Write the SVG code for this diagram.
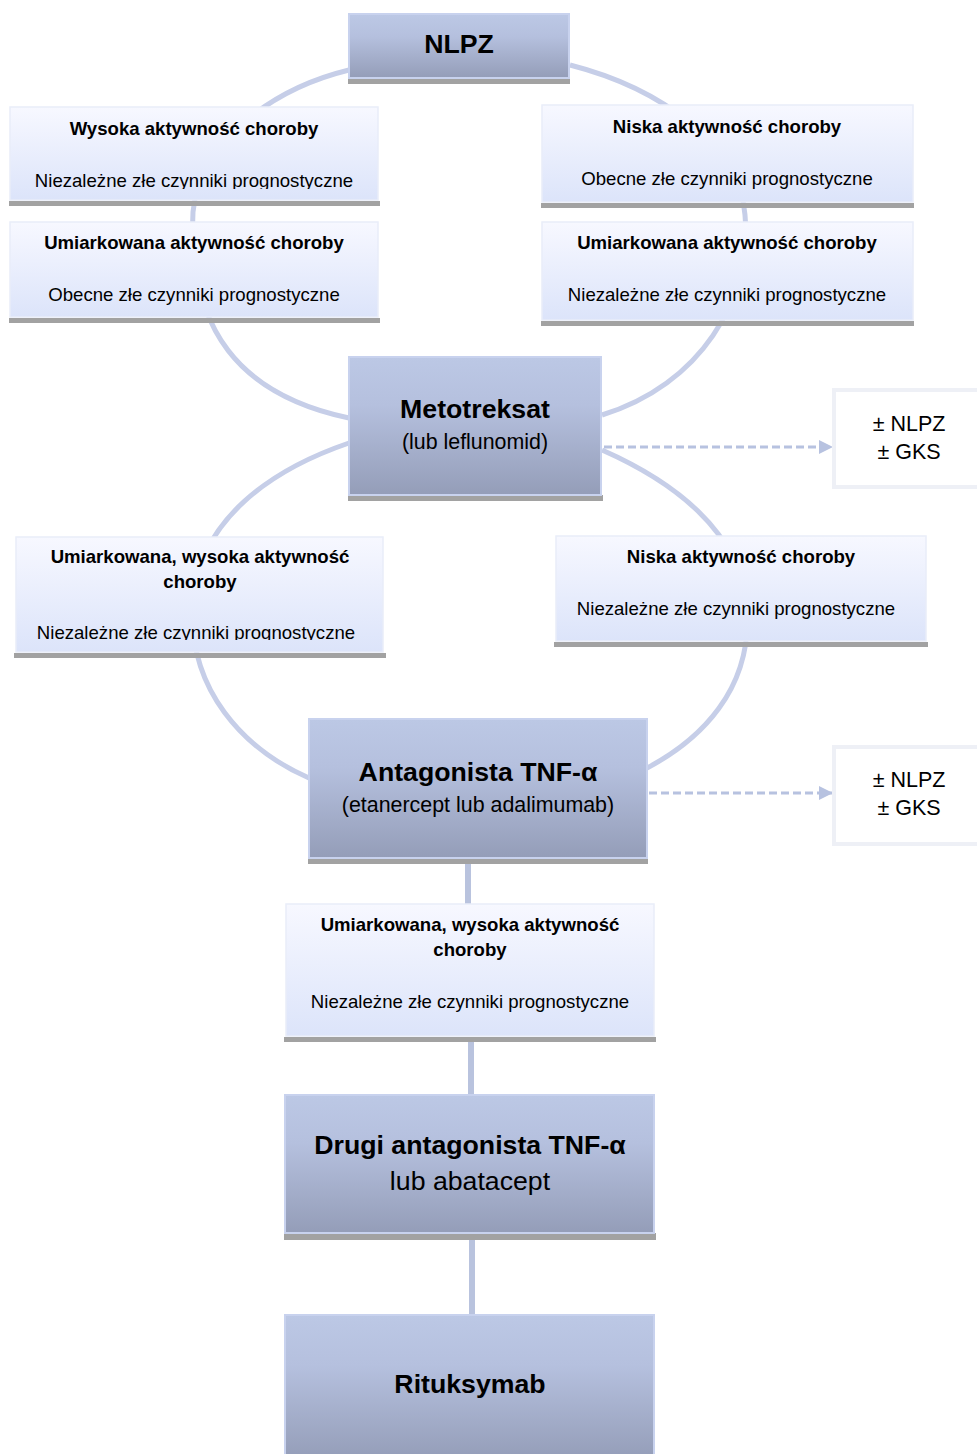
<svg xmlns="http://www.w3.org/2000/svg" width="977" height="1454" viewBox="0 0 977 1454">
<defs>
<linearGradient id="gMain" x1="0" y1="0" x2="0" y2="1">
<stop offset="0" stop-color="#bcc8e5"/>
<stop offset="0.35" stop-color="#b5c0de"/>
<stop offset="1" stop-color="#949db8"/>
</linearGradient>
<linearGradient id="gCond" x1="0" y1="0" x2="0" y2="1">
<stop offset="0" stop-color="#f7f8ff"/>
<stop offset="1" stop-color="#dce4fa"/>
</linearGradient>
<marker id="arr" markerWidth="14" markerHeight="14" refX="13" refY="7" orient="auto" markerUnits="userSpaceOnUse">
<path d="M0,0 L14,7 L0,14 Z" fill="#b7c2e0"/>
</marker>
<clipPath id="clip1"><rect x="10" y="100" width="370" height="89"/></clipPath>
<clipPath id="clip2"><rect x="15" y="530" width="370" height="110"/></clipPath>
</defs>
<style>
.main{fill:url(#gMain);stroke:#c8d2ee;stroke-width:2}
.cond{fill:url(#gCond);stroke:#e9edf9;stroke-width:1.5}
.bar{fill:#a2a2a2}
.side{fill:#ffffff;stroke:#eef0f6;stroke-width:4}
.arc{fill:none;stroke:#c6cee8;stroke-width:5}
.vline{stroke:#b9c3de;stroke-width:6}
.dash{stroke:#b7c2e0;stroke-width:3;stroke-dasharray:8 4;fill:none}
text{font-family:"Liberation Sans",Arial,sans-serif;fill:#000;text-anchor:middle}
.t1{font-size:26.7px;font-weight:bold}
.t2{font-size:21.4px}
.t3{font-size:26.7px}
.ct{font-size:18.6px;font-weight:bold}
.cb{font-size:18.6px}
.sd{font-size:21.5px}
</style>
<rect width="977" height="1454" fill="#ffffff"/>
<g id="connectors">
<path class="arc" d="M349,70 C275,88 200,140 193,212 C188,330 240,395 349,418"/>
<path class="arc" d="M570,65 C660,88 740,145 745,215 C752,300 700,385 602,415"/>
<path class="arc" d="M349,443 C270,470 200,520 193,600 C186,690 245,750 309,778"/>
<path class="arc" d="M602,450 C670,480 742,530 747,610 C752,690 700,740 647,768"/>
<line class="vline" x1="468" y1="862" x2="468" y2="905"/>
<line class="vline" x1="471" y1="1040" x2="471" y2="1096"/>
<line class="vline" x1="472" y1="1238" x2="472" y2="1316"/>
<line class="dash" x1="604" y1="447" x2="832" y2="447" marker-end="url(#arr)"/>
<line class="dash" x1="649" y1="793" x2="832" y2="793" marker-end="url(#arr)"/>
</g>
<g id="nlpz">
<rect class="bar" x="348" y="78" width="222" height="6"/>
<rect class="main" x="349" y="14" width="220" height="64"/>
<text class="t1" x="459" y="53">NLPZ</text>
</g>
<g id="wysoka">
<rect class="bar" x="9" y="201" width="371" height="5"/>
<rect class="cond" x="10" y="107" width="368" height="93"/>
<text class="ct" x="194" y="135">Wysoka aktywność choroby</text>
<text class="cb" x="194" y="187" clip-path="url(#clip1)">Niezależne złe czynniki prognostyczne</text>
</g>
<g id="umiark-left">
<rect class="bar" x="9" y="318" width="371" height="5"/>
<rect class="cond" x="10" y="222" width="368" height="95"/>
<text class="ct" x="194" y="249">Umiarkowana aktywność choroby</text>
<text class="cb" x="194" y="301">Obecne złe czynniki prognostyczne</text>
</g>
<g id="niska-top">
<rect class="bar" x="541" y="203" width="373" height="5"/>
<rect class="cond" x="542" y="105" width="371" height="97"/>
<text class="ct" x="727" y="133">Niska aktywność choroby</text>
<text class="cb" x="727" y="185">Obecne złe czynniki prognostyczne</text>
</g>
<g id="umiark-right">
<rect class="bar" x="541" y="321" width="373" height="5"/>
<rect class="cond" x="542" y="222" width="371" height="98"/>
<text class="ct" x="727" y="249">Umiarkowana aktywność choroby</text>
<text class="cb" x="727" y="301">Niezależne złe czynniki prognostyczne</text>
</g>
<g id="metotreksat">
<rect class="bar" x="348" y="495" width="255" height="6"/>
<rect class="main" x="349" y="357" width="252" height="138"/>
<text class="t1" x="475" y="418">Metotreksat</text>
<text class="t2" x="475" y="449">(lub leflunomid)</text>
</g>
<g id="side1">
<rect class="side" x="834" y="390" width="150" height="97"/>
<text class="sd" x="909" y="431">± NLPZ</text>
<text class="sd" x="909" y="459">± GKS</text>
</g>
<g id="umiark-wys-left">
<rect class="bar" x="14" y="653" width="372" height="5"/>
<rect class="cond" x="16" y="537" width="367" height="115"/>
<text class="ct" x="200" y="563">Umiarkowana, wysoka aktywność</text>
<text class="ct" x="200" y="588">choroby</text>
<text class="cb" x="196" y="639" clip-path="url(#clip2)">Niezależne złe czynniki prognostyczne</text>
</g>
<g id="niska-low">
<rect class="bar" x="554" y="642" width="374" height="5"/>
<rect class="cond" x="556" y="536" width="370" height="105"/>
<text class="ct" x="741" y="563">Niska aktywność choroby</text>
<text class="cb" x="736" y="615">Niezależne złe czynniki prognostyczne</text>
</g>
<g id="antagonista">
<rect class="bar" x="308" y="858" width="340" height="6"/>
<rect class="main" x="309" y="719" width="338" height="139"/>
<text class="t1" x="478" y="781">Antagonista TNF-α</text>
<text class="t2" x="478" y="812">(etanercept lub adalimumab)</text>
</g>
<g id="side2">
<rect class="side" x="834" y="747" width="150" height="97"/>
<text class="sd" x="909" y="787">± NLPZ</text>
<text class="sd" x="909" y="815">± GKS</text>
</g>
<g id="umiark-wys-center">
<rect class="bar" x="284" y="1037" width="372" height="5"/>
<rect class="cond" x="286" y="904" width="368" height="132"/>
<text class="ct" x="470" y="931">Umiarkowana, wysoka aktywność</text>
<text class="ct" x="470" y="956">choroby</text>
<text class="cb" x="470" y="1008">Niezależne złe czynniki prognostyczne</text>
</g>
<g id="drugi">
<rect class="bar" x="284" y="1233" width="372" height="7"/>
<rect class="main" x="285" y="1095" width="369" height="138"/>
<text class="t1" x="470" y="1154">Drugi antagonista TNF-α</text>
<text class="t3" x="470" y="1190">lub abatacept</text>
</g>
<g id="rituksymab">
<rect class="main" x="285" y="1315" width="369" height="145"/>
<text class="t1" x="470" y="1393">Rituksymab</text>
</g>
</svg>
